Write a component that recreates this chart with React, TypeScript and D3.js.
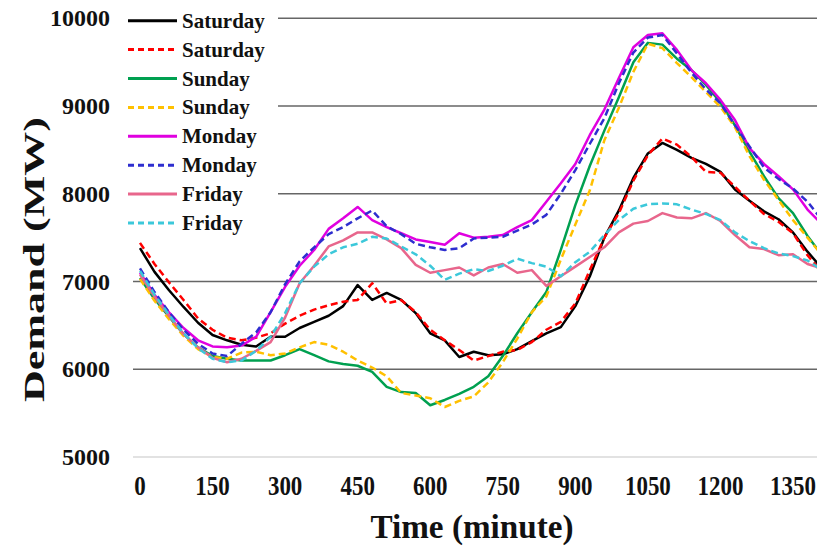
import React from "react";
import * as d3 from "d3";

const minutes = [0, 30, 60, 90, 120, 150, 180, 210, 240, 270, 300, 330, 360, 390, 420, 450, 480, 510, 540, 570, 600, 630, 660, 690, 720, 750, 780, 810, 840, 870, 900, 930, 960, 990, 1020, 1050, 1080, 1110, 1140, 1170, 1200, 1230, 1260, 1290, 1320, 1350, 1380, 1410];

const saturdaySolid = [7380, 7110, 6900, 6710, 6530, 6390, 6330, 6280, 6260, 6370, 6370, 6470, 6540, 6610, 6720, 6960, 6790, 6870, 6790, 6640, 6410, 6330, 6140, 6200, 6160, 6170, 6230, 6320, 6410, 6480, 6720, 7060, 7500, 7810, 8180, 8460, 8580, 8500, 8410, 8340, 8250, 8050, 7920, 7800, 7710, 7560, 7340, 7150];
const saturdayDashed = [7440, 7200, 6990, 6790, 6580, 6450, 6360, 6330, 6360, 6410, 6520, 6610, 6680, 6730, 6770, 6790, 6980, 6750, 6790, 6650, 6450, 6330, 6220, 6100, 6150, 6200, 6220, 6310, 6450, 6540, 6750, 7130, 7500, 7780, 8150, 8440, 8630, 8560, 8420, 8250, 8240, 8080, 7920, 7770, 7680, 7550, 7300, 7100];
const sundaySolid = [7040, 6800, 6600, 6400, 6250, 6150, 6120, 6100, 6100, 6100, 6160, 6230, 6160, 6090, 6060, 6040, 5970, 5800, 5740, 5730, 5590, 5650, 5720, 5800, 5920, 6150, 6410, 6650, 6880, 7360, 7870, 8320, 8720, 9100, 9500, 9720, 9700, 9540, 9410, 9240, 9040, 8780, 8480, 8200, 7950, 7780, 7520, 7300];
const sundayDashed = [7030, 6780, 6570, 6380, 6230, 6140, 6120, 6190, 6200, 6160, 6180, 6250, 6310, 6280, 6200, 6100, 6020, 5920, 5730, 5700, 5670, 5570, 5640, 5690, 5850, 6080, 6350, 6650, 6830, 7250, 7650, 8040, 8610, 8980, 9390, 9710, 9660, 9490, 9330, 9160, 8990, 8760, 8430, 8160, 7930, 7700, 7500, 7300];
const mondaySolid = [7100, 6850, 6650, 6470, 6330, 6260, 6250, 6270, 6370, 6650, 6940, 7180, 7360, 7600, 7720, 7850, 7700, 7620, 7550, 7480, 7450, 7420, 7550, 7500, 7510, 7530, 7620, 7700, 7910, 8120, 8340, 8670, 8960, 9320, 9670, 9810, 9830, 9640, 9410, 9260, 9070, 8840, 8520, 8340, 8200, 8050, 7820, 7650];
const mondayDashed = [7150, 6880, 6650, 6450, 6290, 6180, 6150, 6290, 6420, 6650, 6970, 7230, 7390, 7540, 7620, 7720, 7810, 7630, 7540, 7430, 7390, 7360, 7380, 7490, 7500, 7510, 7580, 7650, 7760, 8000, 8270, 8570, 8860, 9260, 9610, 9780, 9810, 9600, 9380, 9190, 9030, 8780, 8540, 8300, 8170, 8060, 7910, 7700];
const fridaySolid = [7080, 6830, 6610, 6400, 6250, 6130, 6080, 6120, 6210, 6310, 6590, 6980, 7180, 7400, 7470, 7560, 7560, 7480, 7380, 7190, 7100, 7130, 7160, 7070, 7160, 7200, 7100, 7130, 6950, 7060, 7170, 7280, 7390, 7560, 7660, 7690, 7780, 7730, 7720, 7780, 7690, 7530, 7390, 7370, 7300, 7310, 7200, 7150];
const fridayDashed = [7120, 6850, 6620, 6410, 6240, 6120, 6080, 6100, 6210, 6370, 6640, 6980, 7170, 7310, 7390, 7430, 7510, 7490, 7400, 7310, 7180, 7020, 7090, 7140, 7120, 7180, 7260, 7210, 7170, 7060, 7220, 7340, 7530, 7700, 7830, 7880, 7890, 7880, 7820, 7770, 7700, 7560, 7460, 7380, 7320, 7290, 7240, 7130];

const seriesNames = ["Saturday", "Saturday", "Sunday", "Sunday", "Monday", "Monday", "Friday", "Friday"];
const seriesValues = [saturdaySolid, saturdayDashed, sundaySolid, sundayDashed, mondaySolid, mondayDashed, fridaySolid, fridayDashed];
const seriesColors = ["#000000", "#FF0000", "#00A050", "#FFC000", "#E000E0", "#2E2ECF", "#E8668C", "#3CC8DA"];
const seriesDashed = [false, true, false, true, false, true, false, true];

const yTicks = [5000, 6000, 7000, 8000, 9000, 10000];
const xTicks = [0, 150, 300, 450, 600, 750, 900, 1050, 1200, 1350];

const W = 817;
const H = 547;
const FONT = "'Times New Roman', 'Liberation Serif', serif";

export default function App() {
  const x = d3.scaleLinear().domain([0, 1350]).range([140, 793]);
  const y = d3.scaleLinear().domain([5000, 10000]).range([457, 18.3]);

  const line = d3
    .line<number>()
    .x((_, i) => x(minutes[i]))
    .y((d) => y(d))
    .curve(d3.curveLinear);

  return (
    <div style={{ position: "absolute", left: 0, top: 0 }}>
      <svg width={W} height={H} style={{ display: "block", background: "#fff" }}>
        <rect x={0} y={0} width={W} height={H} fill="#fff" />
        {yTicks.map((t) => (
          <line
            key={"g" + t}
            x1={133}
            x2={W}
            y1={y(t)}
            y2={y(t)}
            stroke={t === 5000 ? "#d9d9d9" : "#666666"}
            strokeWidth={1.4}
          />
        ))}
        {yTicks.map((t) => (
          <text
            key={"yt" + t}
            x={110}
            y={y(t) + 8}
            textAnchor="end"
            fontFamily={FONT}
            fontWeight="bold"
            fontSize={24}
            fill="#111"
          >
            {t}
          </text>
        ))}
        {xTicks.map((t) => (
          <text
            key={"xt" + t}
            transform={`translate(${x(t)},495) scale(0.82,1)`}
            textAnchor="middle"
            fontFamily={FONT}
            fontWeight="bold"
            fontSize={28}
            fill="#111"
          >
            {t}
          </text>
        ))}
        <text
          x={472}
          y={538}
          textAnchor="middle"
          fontFamily={FONT}
          fontWeight="bold"
          fontSize={34}
          textLength={203}
          lengthAdjust="spacingAndGlyphs"
          fill="#111"
        >
          Time (minute)
        </text>
        <text
          transform="translate(44,259.5) rotate(-90)"
          textAnchor="middle"
          fontFamily={FONT}
          fontWeight="bold"
          fontSize={30}
          textLength={285}
          lengthAdjust="spacingAndGlyphs"
          fill="#111"
        >
          Demand (MW)
        </text>
        <g>
          {seriesValues.map((vals, i) => (
            <path
              key={"s" + i}
              d={line(vals) || ""}
              fill="none"
              stroke={seriesColors[i]}
              strokeWidth={2.5}
              strokeDasharray={seriesDashed[i] ? "7,4" : undefined}
              strokeLinejoin="round"
            />
          ))}
        </g>
        <rect x={118} y={4} width={160} height={234} fill="#fff" />
        {seriesNames.map((name, i) => {
          const base = 27.7 + i * 28.9;
          return (
            <g key={"lg" + i}>
              <line
                x1={128}
                x2={177}
                y1={base - 7}
                y2={base - 7}
                stroke={seriesColors[i]}
                strokeWidth={3}
                strokeDasharray={seriesDashed[i] ? "6,4" : undefined}
              />
              <text
                x={182}
                y={base}
                fontFamily={FONT}
                fontWeight="bold"
                fontSize={21}
                fill="#111"
              >
                {name}
              </text>
            </g>
          );
        })}
      </svg>
    </div>
  );
}
